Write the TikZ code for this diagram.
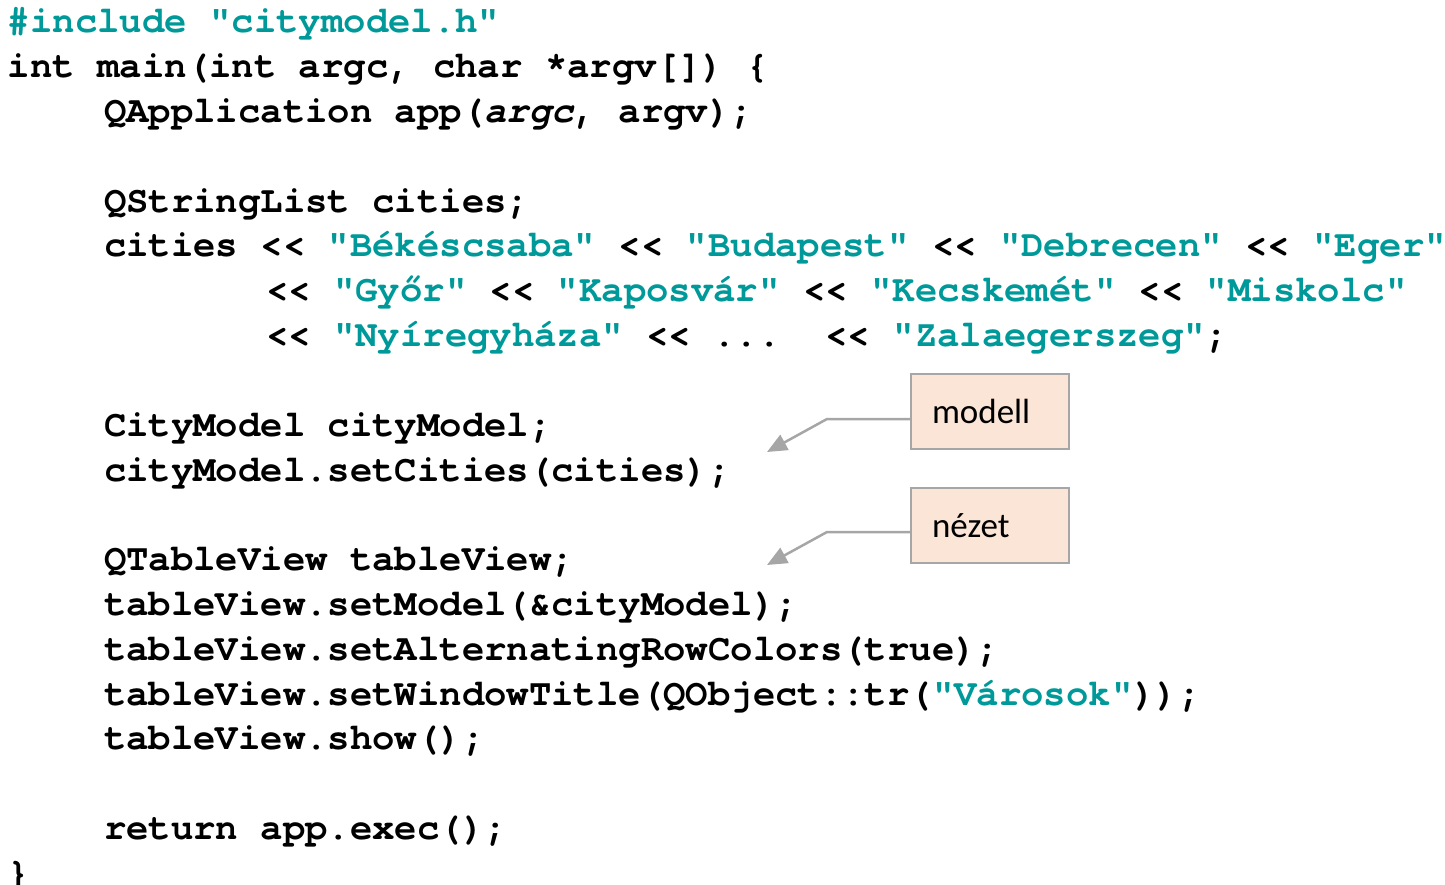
\documentclass[tikz,border=0pt]{standalone}
\usepackage{fontspec}
\setmonofont{texgyrecursor}[Extension=.otf, UprightFont=*-regular, BoldFont=*-bold, ItalicFont=*-italic, BoldItalicFont=*-bolditalic]
\newfontfamily\calfont{Carlito}
\usetikzlibrary{arrows.meta}
\definecolor{strteal}{RGB}{0,153,153}
\definecolor{boxfill}{RGB}{251,229,214}
\definecolor{boxline}{RGB}{166,166,166}
\newcommand{\str}[1]{\textcolor{strteal}{#1}}
\tikzset{
  code/.style={anchor=base west, inner sep=0pt, outer sep=0pt,
    font=\ttfamily\bfseries\fontsize{37.3}{44.8}\selectfont\frenchspacing},
  callout/.style={draw=boxline, line width=2pt, fill=boxfill, anchor=north west,
    minimum width=158pt, minimum height=75pt, text width=116pt, inner xsep=21pt,
    align=left, font=\calfont\fontsize{35}{40}\selectfont},
  pointer/.style={draw=boxline, line width=2.5pt,
    -{Triangle[length=20pt,width=17pt]}}
}
\begin{document}
\begin{tikzpicture}[x=1pt,y=-1pt]
\useasboundingbox (0,0) rectangle (1445,885);
\node[code] (l1) at (8,33) {\str{\#include "citymodel.h"}};
\node[code] (l2) at (8,77.8) {int main(int argc, char *argv[]) \{};
\node[code] (l3) at (104,122.6) {QApplication app(\textit{argc}, argv);};
\node[code] (l5) at (104,212.2) {QStringList cities;};
\node[code] (l6) at (104,257) {cities << \str{"Békéscsaba"} << \str{"Budapest"} << \str{"Debrecen"} << \str{"Eger"}};
\node[code] (l7) at (266,301.8) {<< \str{"Győr"} << \str{"Kaposvár"} << \str{"Kecskemét"} << \str{"Miskolc"}};
\node[code] (l8) at (266,346.6) {<< \str{"Nyíregyháza"} << ...~~<< \str{"Zalaegerszeg"};};
\node[code] (l10) at (104,436.2) {CityModel cityModel;};
\node[code] (l11) at (104,481) {cityModel.setCities(cities);};
\node[code] (l13) at (104,570.6) {QTableView tableView;};
\node[code] (l14) at (104,615.4) {tableView.setModel(\&cityModel);};
\node[code] (l15) at (104,660.2) {tableView.setAlternatingRowColors(true);};
\node[code] (l16) at (104,705) {tableView.setWindowTitle(QObject::tr(\str{"Városok"}));};
\node[code] (l17) at (104,749.8) {tableView.show();};
\node[code] (l19) at (104,839.4) {return app.exec();};
\node[code] (l20) at (8,884.2) {\}};

\node[callout] (modell) at (910,373) {modell};
\node[callout] (nezet) at (910,487) {nézet};

\coordinate (mbend) at (827,419);
\coordinate (mtip) at (767,452);
\coordinate (nbend) at (827,532);
\coordinate (ntip) at (767,565);
\draw[pointer] (modell.west |- mbend) -- (mbend) -- (mtip);
\draw[pointer] (nezet.west |- nbend) -- (nbend) -- (ntip);
\end{tikzpicture}
\end{document}
